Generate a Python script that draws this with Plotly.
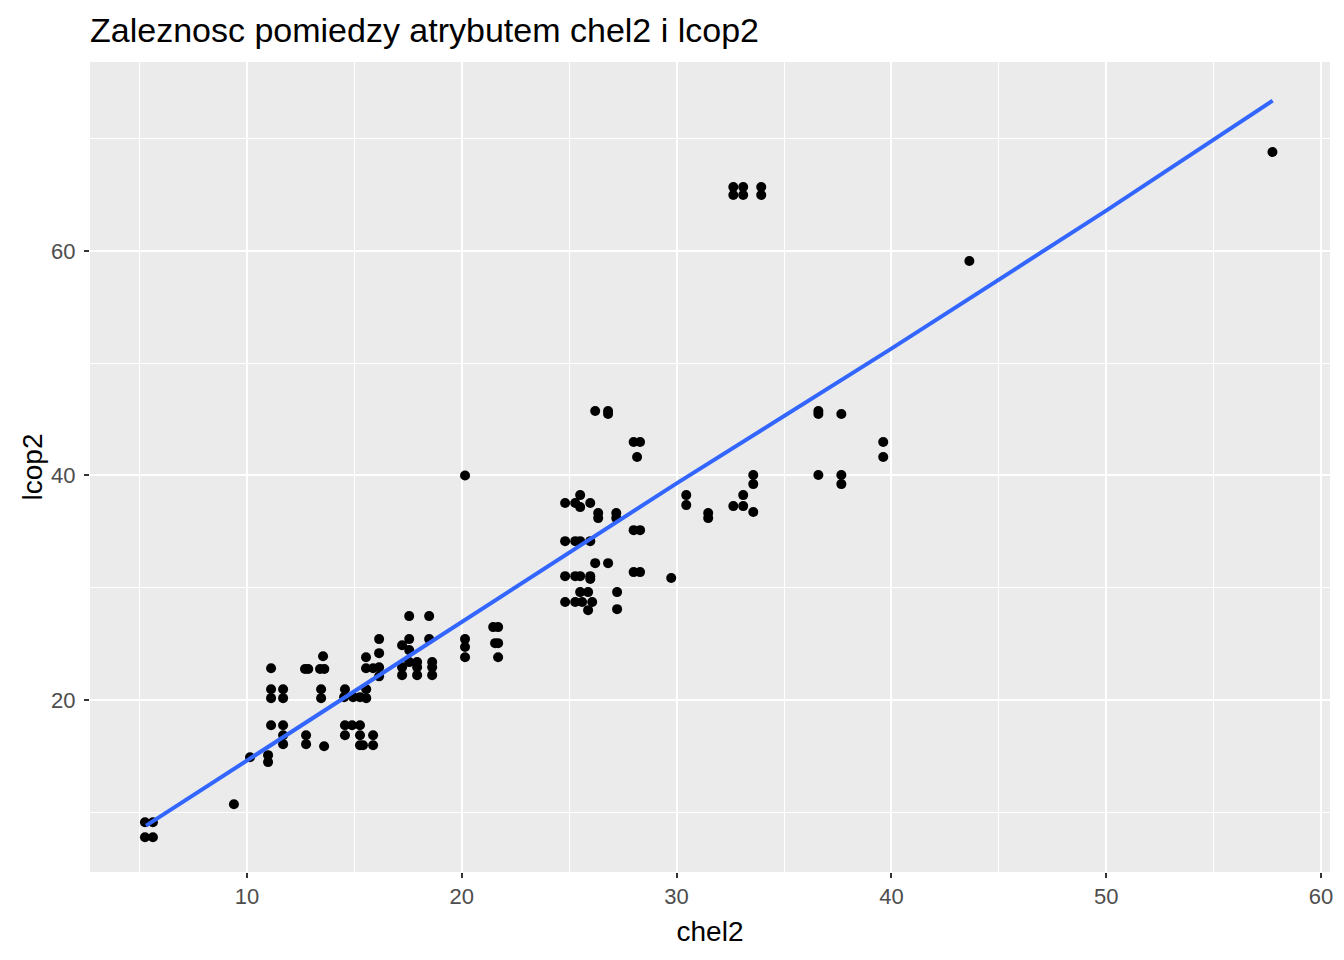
import plotly.graph_objects as go

chel2 = [
    5.25, 5.62, 5.25, 5.62,
    9.39,
    10.14, 10.98, 10.98,
    11.12, 11.12, 11.12, 11.68, 11.68, 11.12, 11.68, 11.68, 11.68,
    12.70, 12.85, 13.40, 13.60, 13.54, 13.45, 13.45, 12.75, 12.75, 13.59,
    14.56, 14.52, 14.94, 15.26, 15.55, 15.55,
    14.56, 14.56, 14.89, 15.26, 15.26, 15.26, 15.40, 15.87, 15.87,
    15.54, 15.54, 15.87, 16.15, 16.15, 16.15, 16.15,
    17.22, 17.55, 17.55, 17.22, 17.22, 17.92, 17.92, 17.92, 17.55,
    17.55, 18.48, 18.48, 18.62, 18.62, 18.62,
    20.15, 20.15, 20.15, 20.15,
    21.46, 21.69, 21.55, 21.69, 21.69,
    24.81, 25.28, 25.51, 25.51, 25.98,
    26.35, 26.35, 27.19, 27.19,
    28.00, 28.30,
    24.81, 25.28, 25.51, 25.98,
    26.21, 26.81,
    24.81, 25.28, 25.51, 25.98, 25.98,
    28.00, 28.30,
    29.75,
    25.51, 25.88, 24.81, 25.28, 25.60, 26.07, 25.88, 27.23, 27.23,
    26.21, 26.81, 26.81,
    28.00, 28.30, 28.16,
    30.45, 30.45, 31.47, 31.47,
    32.64, 33.10, 33.10, 33.57, 33.57, 33.57,
    32.64, 33.10, 32.64, 33.10, 33.94, 33.94,
    36.60, 36.60, 37.67, 36.60, 37.67, 37.67, 39.62, 39.62,
    43.63, 57.74,
]

lcop2 = [
    9.11, 9.11, 7.77, 7.77,
    10.71,
    14.90, 15.08, 14.46,
    22.83, 20.96, 20.16, 20.96, 20.16, 17.75, 17.75, 16.86, 16.06,
    22.75, 22.75, 22.75, 22.75, 23.90, 20.96, 20.16, 16.86, 16.06, 15.88,
    20.96, 20.25, 20.25, 20.25, 20.96, 20.16,
    17.75, 16.86, 17.75, 17.75, 16.86, 15.97, 15.97, 16.86, 15.97,
    23.81, 22.83, 22.83, 25.42, 24.17, 22.92, 22.10,
    24.88, 25.42, 24.44, 22.92, 22.21, 23.37, 22.92, 22.21, 23.37,
    27.47, 27.47, 25.42, 23.37, 22.92, 22.21,
    25.42, 24.71, 23.81, 40.00,
    26.49, 26.49, 25.06, 25.06, 23.81,
    37.54, 37.54, 38.25, 37.18, 37.54,
    36.65, 36.20, 36.65, 36.20,
    35.13, 35.13,
    34.15, 34.15, 34.15, 34.15,
    32.19, 32.19,
    31.03, 31.03, 31.03, 31.03, 30.77,
    31.39, 31.39,
    30.86,
    29.61, 29.61, 28.72, 28.72, 28.72, 28.72, 28.00, 29.61, 28.09,
    45.74, 45.74, 45.47,
    42.98, 42.98, 41.64,
    38.25, 37.36, 36.65, 36.20,
    37.27, 38.25, 37.27, 40.04, 39.23, 36.74,
    65.70, 65.70, 64.99, 64.99, 65.70, 64.99,
    45.74, 45.47, 45.47, 40.04, 40.04, 39.23, 42.98, 41.64,
    59.11, 68.82,
]

# smoothed trend
smooth_x = [5.3, 10.0, 20.0, 30.0, 40.0, 50.0, 57.75]
smooth_y = [8.8, 14.6, 27.0, 39.3, 51.3, 63.6, 73.4]

x_ticks = [10, 20, 30, 40, 50, 60]
y_ticks = [20, 40, 60]

title_text = "Zaleznosc pomiedzy atrybutem chel2 i lcop2"
x_title = "chel2"
y_title = "lcop2"

FONT = "Liberation Sans, Arial, sans-serif"

fig = go.Figure()
fig.add_trace(go.Scatter(
    x=chel2, y=lcop2, mode="markers",
    marker=dict(color="black", size=10, line=dict(width=0)),
    showlegend=False, hoverinfo="x+y",
))
fig.add_trace(go.Scatter(
    x=smooth_x, y=smooth_y, mode="lines",
    line=dict(color="#3366FF", width=4),
    showlegend=False,
))

axis_common = dict(
    showgrid=True, gridcolor="white", gridwidth=2,
    zeroline=False, showline=False,
    ticks="outside", ticklen=5, tickwidth=1.5, tickcolor="#333333",
    tickfont=dict(family=FONT, size=22, color="#4D4D4D"),
    title_font=dict(family=FONT, size=28, color="black"),
)

fig.update_layout(
    width=1344, height=960,
    margin=dict(l=90, r=14, t=62, b=88),
    paper_bgcolor="white", plot_bgcolor="#EBEBEB",
    title=dict(text=title_text, x=90 / 1344, xanchor="left", xref="container",
               y=1 - 30 / 960, yanchor="middle", yref="container",
               font=dict(family=FONT, size=34, color="black")),
    xaxis=dict(range=[2.69, 60.42], tickvals=x_ticks, ticktext=[str(v) for v in x_ticks],
               title=dict(text=x_title, standoff=12),
               minor=dict(tickvals=[5, 15, 25, 35, 45, 55], showgrid=True, gridcolor="white",
                          gridwidth=1, ticks=""),
               **axis_common),
    yaxis=dict(range=[4.67, 76.84], tickvals=y_ticks, ticktext=[str(v) for v in y_ticks],
               title=dict(text=y_title, standoff=0), ticklabelstandoff=4,
               minor=dict(tickvals=[10, 30, 50, 70], showgrid=True, gridcolor="white",
                          gridwidth=1, ticks=""),
               **axis_common),
)

fig.write_html("out.html", config={"displayModeBar": False},
               post_script="document.body.style.margin='0';")
